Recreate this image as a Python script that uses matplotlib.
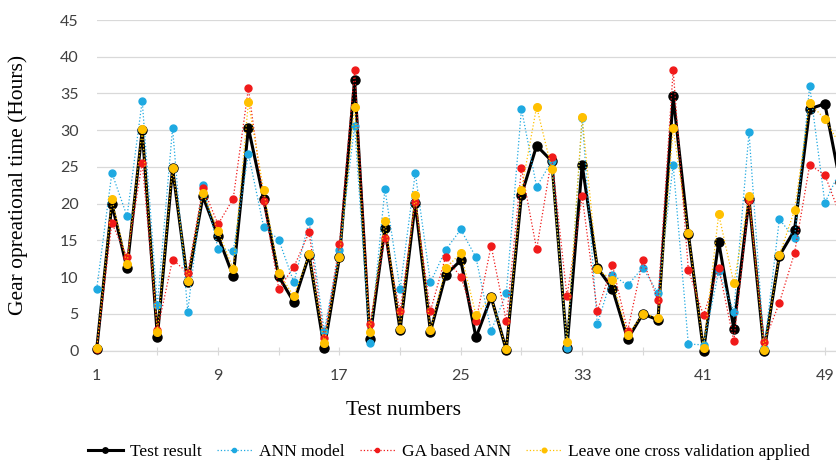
import matplotlib
matplotlib.use("Agg")
import matplotlib.pyplot as plt

# test numbers 1..50 (chart is cut at the right edge)
tests = list(range(1, 51))

test_result = [0.2, 20.0, 11.2, 30.0, 1.9, 24.8, 9.3, 21.0, 15.6, 10.1,
               30.3, 20.7, 10.1, 6.6, 13.0, 0.3, 12.7, 36.9, 1.6, 16.7,
               2.8, 20.1, 2.6, 10.3, 12.3, 1.8, 7.3, 0.1, 21.2, 27.9,
               25.8, 0.4, 25.3, 11.3, 8.4, 1.6, 5.0, 4.2, 34.6, 15.9,
               0.0, 14.8, 3.0, 20.6, 0.0, 12.9, 16.4, 32.9, 33.6, 23.0]

ann_model = [8.4, 24.2, 18.3, 34.0, 6.2, 30.3, 5.3, 22.6, 13.9, 13.6,
             26.8, 16.9, 15.1, 9.3, 17.6, 2.7, 13.7, 30.6, 1.0, 22.0,
             8.4, 24.2, 9.3, 13.7, 16.5, 12.7, 2.7, 7.8, 32.9, 22.3,
             25.8, 0.3, 31.6, 3.6, 10.3, 8.9, 11.3, 7.8, 25.3, 0.9,
             0.8, 10.8, 5.3, 29.7, 0.3, 17.9, 15.3, 36.0, 20.1, 24.5]

ga_ann = [0.2, 17.4, 12.7, 25.6, 2.8, 12.4, 10.6, 22.2, 17.2, 20.7,
          35.7, 20.4, 8.4, 11.4, 16.1, 1.7, 14.5, 38.2, 3.6, 15.4,
          5.4, 20.3, 5.4, 12.8, 10.0, 4.0, 14.3, 4.0, 24.8, 13.8,
          26.3, 7.4, 21.0, 5.4, 11.6, 2.7, 12.3, 6.9, 38.2, 11.0,
          4.8, 11.3, 1.3, 20.5, 1.2, 6.5, 13.3, 25.3, 23.9, 18.5]

leave_one = [0.3, 20.6, 11.8, 30.1, 2.5, 24.9, 9.5, 21.5, 16.3, 11.1,
             33.8, 21.9, 10.6, 7.4, 13.1, 1.0, 12.8, 33.2, 2.6, 17.6,
             3.0, 21.2, 2.8, 11.2, 13.3, 4.9, 7.3, 0.2, 21.9, 33.2,
             24.7, 1.2, 31.8, 11.1, 9.6, 2.1, 5.0, 4.5, 30.3, 16.0,
             0.3, 18.6, 9.2, 21.0, 0.1, 13.0, 19.1, 33.7, 31.5, 28.0]

x_labels = [1, 9, 17, 25, 33, 41, 49]

W, H = 837, 461
fig = plt.figure(figsize=(W / 100, H / 100), dpi=100)

# axes: first point at x=97px, 0 at y=351px, 45 at y=20px, spacing ~15.17px
left_px, bottom_px, top_px = 96.7, 350.7, 20.0
step = 15.17
xmax = 51
ax = fig.add_axes([left_px / W, (H - bottom_px) / H,
                   (xmax - 1) * step / W, (bottom_px - top_px) / H])

ax.plot(tests, test_result, color="black", lw=2.2, marker="o", ms=6.5,
        label="Test result", zorder=3, clip_on=False)
ax.plot(tests, ann_model, color="#1ea9e1", lw=0.9, ls=":", marker="o", ms=5,
        label="ANN model", zorder=4, clip_on=False)
ax.plot(tests, ga_ann, color="#f01a1a", lw=0.9, ls=":", marker="o", ms=5,
        label="GA based ANN", zorder=5, clip_on=False)
ax.plot(tests, leave_one, color="#ffc000", lw=0.9, ls=":", marker="o", ms=5.5,
        label="Leave one cross validation applied", zorder=6, clip_on=False)

ax.set_xlim(1, xmax)
ax.set_ylim(0, 45)
ax.set_yticks(range(0, 46, 5))
ax.set_xticks(range(1, xmax + 1, 4))
ax.set_xticklabels([str(t) if t in x_labels else "" for t in range(1, xmax + 1, 4)])

ax.grid(True, axis="y", color="#d9d9d9", lw=0.9)
ax.set_axisbelow(True)
for s in ["left", "right", "top"]:
    ax.spines[s].set_visible(False)
ax.spines["bottom"].set_color("#d9d9d9")
ax.spines["bottom"].set_linewidth(0.9)

ax.tick_params(axis="y", length=0, pad=13, labelsize=11.5, labelcolor="#404040")
ax.tick_params(axis="x", direction="inout", length=6, width=0.8, color="#d9d9d9",
               pad=10, labelsize=11.5, labelcolor="#404040")
for lab in ax.get_xticklabels() + ax.get_yticklabels():
    lab.set_fontfamily("Lato")

ax_w = (xmax - 1) * step
ax_h = bottom_px - top_px
ax.set_xlabel("Test numbers", family="Liberation Serif", fontsize=15.5, va="center")
ax.xaxis.set_label_coords((404 - left_px) / ax_w, -(410 - bottom_px) / ax_h)
ax.set_ylabel("Gear opreational time (Hours)", family="Liberation Serif",
              fontsize=15.5, va="center")
ax.yaxis.set_label_coords((18 - left_px) / ax_w, (bottom_px - 185) / ax_h)

fig.legend(loc="center", bbox_to_anchor=(449 / W, (H - 452) / H), ncol=4,
           frameon=False, prop={"family": "Liberation Serif", "size": 12.5},
           handlelength=2.0, handletextpad=0.4, columnspacing=0.9, markerscale=0.6)

fig.savefig("out.png", dpi=100)
